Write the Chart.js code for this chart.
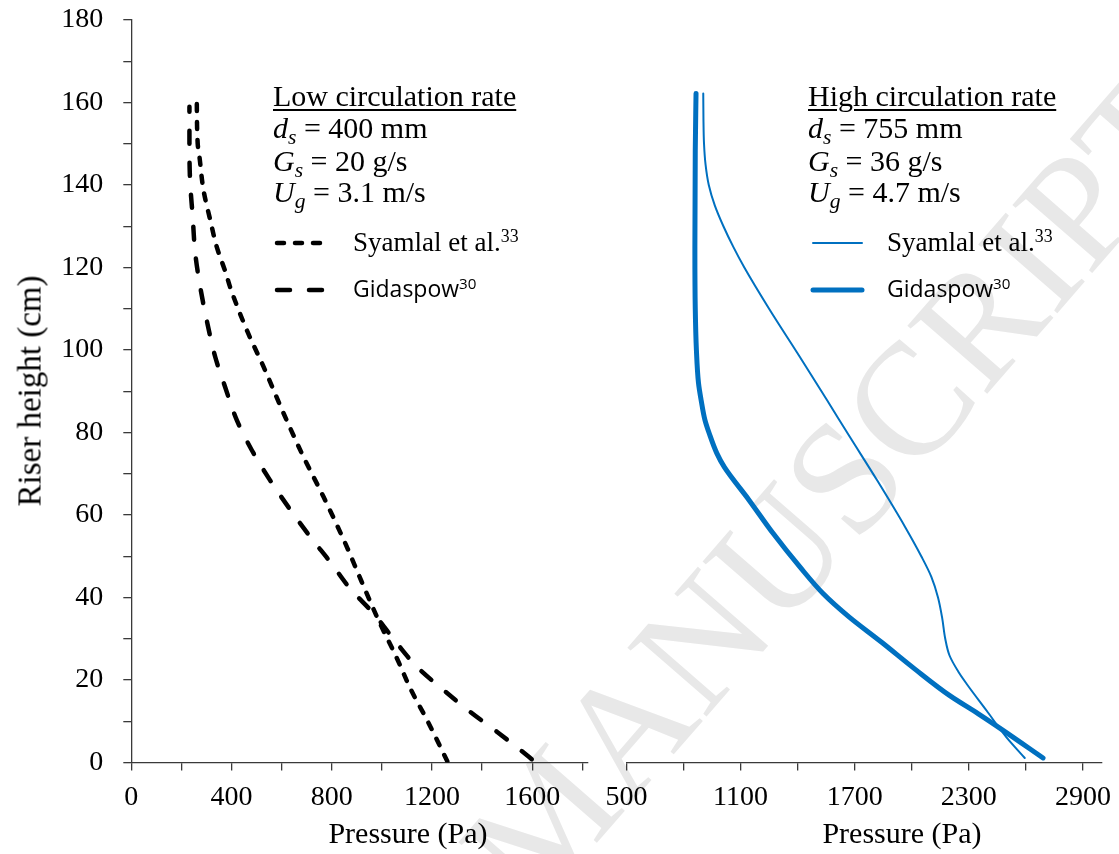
<!DOCTYPE html>
<html>
<head>
<meta charset="utf-8">
<title>Riser pressure profiles</title>
<script src="https://cdn.jsdelivr.net/npm/chart.js@4.4.1/dist/chart.umd.min.js"></script>
<style>
  body { margin: 0; width: 1119px; height: 854px; overflow: hidden; background: #fff; position: relative; font-family: "Liberation Serif", serif; }
  canvas { position: absolute; top: 0; z-index: 1; }
  #lowChart { left: 0; }
  #highChart { left: 600px; }
  .txt { position: absolute; white-space: nowrap; color: #000; line-height: 1; z-index: 2; }
  .note { font-size: 30px; }
  .sub { font-size: 0.72em; position: relative; top: 0.3em; font-style: italic; }
  .head { text-decoration: underline; text-decoration-thickness: 1.5px; text-underline-offset: 3px; }
  .serifLeg { font-size: 27px; }
  .sansLeg { font-family: "Open Sans", "Noto Sans", sans-serif; font-size: 23px; }
  .sup { font-size: 0.66em; position: relative; top: -0.5em; }
  .axisTitle { font-size: 30px; text-align: center; width: 260px; }
  #yTitle { left: 30px; top: 391px; transform: translate(-50%, -50%) rotate(-90deg); width: auto; font-size: 33px; }
  #mark { position: absolute; z-index: 0; left: 832px; top: 490px; transform: translate(-50%, -50%) rotate(-49deg);
          font-family: "Liberation Serif", serif; font-size: 160px; color: #e8e8e8; white-space: nowrap; line-height: 1; }
</style>
</head>
<body>
<div id="mark">MANUSCRIPT</div>

<canvas id="lowChart" width="600" height="854"></canvas>
<canvas id="highChart" width="519" height="854"></canvas>

<!-- low circulation rate notes -->
<div class="txt note head" style="left:273px; top:81px;">Low circulation rate</div>
<div class="txt note" style="left:273px; top:113px;"><i>d</i><span class="sub">s</span> = 400 mm</div>
<div class="txt note" style="left:273px; top:146px;"><i>G</i><span class="sub">s</span> = 20 g/s</div>
<div class="txt note" style="left:273px; top:177px;"><i>U</i><span class="sub">g</span> = 3.1 m/s</div>
<div class="txt serifLeg" style="left:353px; top:229px;">Syamlal et al.<span class="sup">33</span></div>
<div class="txt sansLeg" style="left:353px; top:277px;">Gidaspow<span class="sup">30</span></div>

<!-- high circulation rate notes -->
<div class="txt note head" style="left:808px; top:81px;">High circulation rate</div>
<div class="txt note" style="left:808px; top:113px;"><i>d</i><span class="sub">s</span> = 755 mm</div>
<div class="txt note" style="left:808px; top:146px;"><i>G</i><span class="sub">s</span> = 36 g/s</div>
<div class="txt note" style="left:808px; top:177px;"><i>U</i><span class="sub">g</span> = 4.7 m/s</div>
<div class="txt serifLeg" style="left:887px; top:229px;">Syamlal et al.<span class="sup">33</span></div>
<div class="txt sansLeg" style="left:887px; top:277px;">Gidaspow<span class="sup">30</span></div>

<div class="txt axisTitle" style="left:278px; top:818px;">Pressure (Pa)</div>
<div class="txt axisTitle" style="left:772px; top:818px;">Pressure (Pa)</div>
<div class="txt axisTitle" id="yTitle">Riser height (cm)</div>

<script>
// riser height axis (cm)
const heightTicks = [0, 10, 20, 30, 40, 50, 60, 70, 80, 90, 100, 110, 120, 130, 140, 150, 160, 170, 180];
const heightLabels = [0, 20, 40, 60, 80, 100, 120, 140, 160, 180];

// pressure axes (Pa)
const lowTicks = [0, 200, 400, 600, 800, 1000, 1200, 1400, 1600, 1800];
const lowLabels = [0, 400, 800, 1200, 1600];
const highTicks = [500, 800, 1100, 1400, 1700, 2000, 2300, 2600, 2900];
const highLabels = [500, 1100, 1700, 2300, 2900];

// low circulation rate - Syamlal et al.
const lowSyamlalHeight   = [162.2, 150, 146.8, 138.8, 131.5, 125, 118.5, 115.3, 104.8, 95.9, 84.6, 74.1, 64.4, 53.1, 44, 34.4, 25.5, 17.5, 10.2, 0.3];
const lowSyamlalPressure = [261, 265, 272, 288, 315, 341, 378, 394, 461, 528, 608, 687, 767, 854, 918, 987, 1058, 1117, 1181, 1261];

// low circulation rate - Gidaspow
const lowGidaspowHeight   = [159, 148.5, 140.5, 132.3, 123.5, 115.3, 107.2, 98.3, 91.1, 83, 75.7, 68.4, 61.9, 54.7, 48.6, 42.1, 36.1, 28.8, 23.1, 17.5, 12.2, 7.4, 1.7, 0.8];
const lowGidaspowPressure = [232, 232, 235, 245, 255, 275, 301, 335, 374, 421, 481, 554, 627, 714, 794, 874, 967, 1061, 1141, 1247, 1354, 1460, 1580, 1598];

// high circulation rate - Syamlal et al.
const highSyamlalHeight   = [162.2, 156, 150, 145, 140, 135, 130, 125, 120, 110, 98.3, 87.8, 78.9, 68.4, 57.1, 50, 45, 40, 35, 30, 26, 22, 19.1, 12.6, 6.1, 1.1];
const highSyamlalPressure = [904, 905, 908, 916, 933, 965, 1010, 1062, 1120, 1250, 1412, 1555, 1675, 1818, 1965, 2050, 2103, 2138, 2160, 2176, 2198, 2245, 2288, 2393, 2498, 2594];

// high circulation rate - Gidaspow
const highGidaspowHeight   = [162.2, 148.5, 124.2, 110, 100, 92, 87.8, 83, 79.7, 75, 71.6, 63.6, 55.5, 47.4, 40.9, 35.3, 29.2, 22.7, 16.2, 11.8, 7.8, 1.1];
const highGidaspowPressure = [866, 862, 860, 862, 868, 879, 893, 913, 936, 975, 1015, 1145, 1272, 1412, 1535, 1670, 1840, 2015, 2200, 2350, 2480, 2690];

// points ordered bottom to top, height is the index axis
const pairs = (p, h) => p.map((x, i) => ({ x: x, y: h[i] })).sort((a, b) => a.y - b.y);

const tickFont = { family: 'Liberation Serif', size: 28 };
const axisColor = '#3a3a3a';
const blue = '#0070C0';

// short line samples next to the legend text
const legendSamples = {
  id: 'legendSamples',
  afterDraw(chart, args, opts) {
    const ctx = chart.ctx;
    chart.data.datasets.forEach((ds, i) => {
      const r = opts.rows[i];
      if (!r) return;
      ctx.save();
      ctx.strokeStyle = ds.borderColor;
      ctx.lineWidth = ds.borderWidth;
      ctx.lineCap = ds.borderCapStyle || 'butt';
      ctx.setLineDash(ds.borderDash || []);
      ctx.beginPath();
      ctx.moveTo(r.x0, r.y);
      ctx.lineTo(r.x1, r.y);
      ctx.stroke();
      ctx.restore();
    });
  }
};

function xScale(min, max, ticks, labels) {
  return {
    type: 'linear',
    min: min,
    max: max,
    afterBuildTicks: s => { s.ticks = ticks.map(v => ({ value: v })); },
    afterFit: s => { s.height = 91.5; s.paddingLeft = 0; s.paddingRight = 0; },
    ticks: {
      autoSkip: false,
      maxRotation: 0,
      padding: 10,
      color: '#000',
      font: tickFont,
      callback: v => labels.includes(v) ? String(v) : ''
    },
    grid: { drawOnChartArea: false, drawTicks: true, tickLength: 8, color: axisColor, lineWidth: 1.3 },
    border: { display: true, color: axisColor, width: 1.3 }
  };
}

function yScale(show) {
  return {
    type: 'linear',
    display: show,
    min: 0,
    max: 180,
    afterBuildTicks: s => { s.ticks = heightTicks.map(v => ({ value: v })); },
    afterFit: s => { s.width = show ? 131.3 : 0; s.paddingTop = 0; s.paddingBottom = 0; },
    ticks: {
      autoSkip: false,
      padding: 20,
      color: '#000',
      font: tickFont,
      callback: v => heightLabels.includes(v) ? String(v) : ''
    },
    grid: { drawOnChartArea: false, drawTicks: true, tickLength: 8, color: axisColor, lineWidth: 1.3 },
    border: { display: true, color: axisColor, width: 1.3 }
  };
}

const baseOptions = {
  responsive: false,
  animation: false,
  events: [],
  indexAxis: 'y',
  plugins: { legend: { display: false }, tooltip: { enabled: false } }
};

const curve = { pointRadius: 0, cubicInterpolationMode: 'monotone', fill: false };

new Chart(document.getElementById('lowChart').getContext('2d'), {
  type: 'line',
  data: {
    datasets: [
      {
        ...curve,
        label: 'Syamlal et al.',
        data: pairs(lowSyamlalPressure, lowSyamlalHeight),
        borderColor: '#000', borderWidth: 4.5, borderDash: [7, 11], borderCapStyle: 'round'
      },
      {
        ...curve,
        label: 'Gidaspow',
        data: pairs(lowGidaspowPressure, lowGidaspowHeight),
        borderColor: '#000', borderWidth: 4.5, borderDash: [13, 19], borderCapStyle: 'round'
      }
    ]
  },
  options: {
    ...baseOptions,
    layout: { padding: { top: 20, right: 12.6, left: 0, bottom: 0 } },
    scales: { x: xScale(0, 1820, lowTicks, lowLabels), y: yScale(true) },
    plugins: {
      ...baseOptions.plugins,
      legendSamples: { rows: [ { x0: 277, x1: 326, y: 243 }, { x0: 277, x1: 326, y: 290 } ] }
    }
  },
  plugins: [legendSamples]
});

new Chart(document.getElementById('highChart').getContext('2d'), {
  type: 'line',
  data: {
    datasets: [
      {
        ...curve,
        label: 'Syamlal et al.',
        data: pairs(highSyamlalPressure, highSyamlalHeight),
        borderColor: blue, borderWidth: 2, borderCapStyle: 'round'
      },
      {
        ...curve,
        label: 'Gidaspow',
        data: pairs(highGidaspowPressure, highGidaspowHeight),
        borderColor: blue, borderWidth: 5, borderCapStyle: 'round'
      }
    ]
  },
  options: {
    ...baseOptions,
    layout: { padding: { top: 20, right: 17, left: 26.4, bottom: 0 } },
    scales: { x: xScale(500, 3000, highTicks, highLabels), y: yScale(false) },
    plugins: {
      ...baseOptions.plugins,
      legendSamples: { rows: [ { x0: 213, x1: 262, y: 243 }, { x0: 213, x1: 262, y: 290 } ] }
    }
  },
  plugins: [legendSamples]
});
</script>
</body>
</html>
